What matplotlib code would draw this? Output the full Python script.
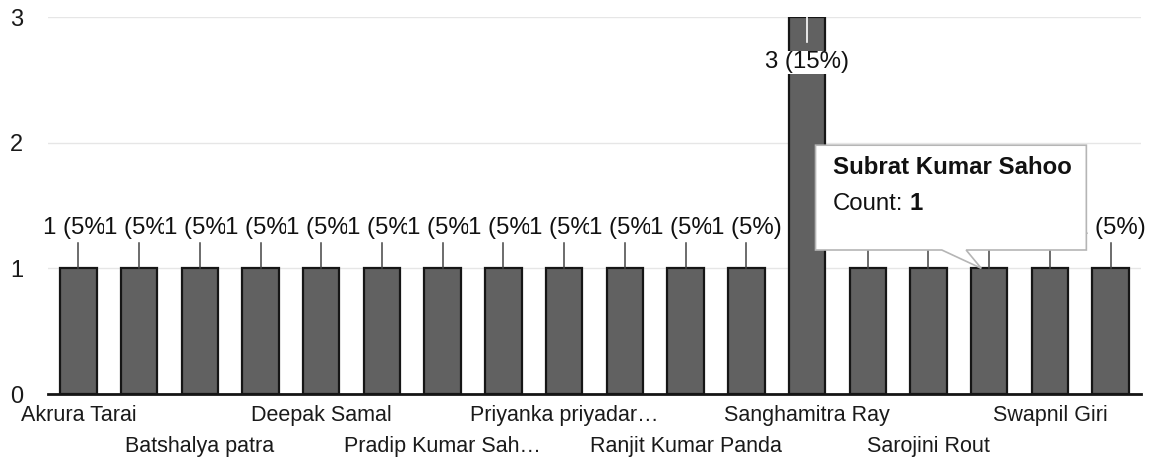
import matplotlib
matplotlib.use("Agg")
import matplotlib.pyplot as plt
from matplotlib.patches import Polygon

plt.rcParams['font.family'] = ['Liberation Sans', 'DejaVu Sans']

# Respondents (alphabetical); only every other name is printed on the axis
names = [
    "Akrura Tarai", "", "Batshalya patra", "", "Deepak Samal", "",
    "Pradip Kumar Sah\u2026", "", "Priyanka priyadar\u2026", "", "Ranjit Kumar Panda", "",
    "Sanghamitra Ray", "", "Sarojini Rout", "Subrat Kumar Sahoo", "Swapnil Giri", "",
]
counts = [1, 1, 1, 1, 1, 1, 1, 1, 1, 1, 1, 1, 3, 1, 1, 1, 1, 1]
y_ticks = [0, 1, 2, 3]
hover_index = 15  # point whose tooltip is open

total = sum(counts)
x = list(range(len(counts)))

fig = plt.figure(figsize=(11.6, 4.73), dpi=100)
ax = fig.add_axes([48 / 1160, 0.167, 1093 / 1160, 0.797])
ax.set_xlim(-0.5, len(counts) - 0.5)
ax.set_ylim(0, 3)

# grid and axes
ax.set_yticks(y_ticks)
ax.yaxis.grid(True, color="#e6e6e6", linewidth=1.0, zorder=0)
ax.set_axisbelow(True)
for side in ("top", "right", "left", "bottom"):
    ax.spines[side].set_visible(False)
ax.axhline(0, color="#151515", linewidth=2.0, zorder=3, clip_on=False)
ax.tick_params(axis="y", length=0, pad=18, labelsize=17, labelcolor="#1a1a1a")

# columns
ax.bar(x, counts, width=0.6, color="#616161", edgecolor="#161616",
       linewidth=1.6, zorder=2)

# staggered category labels: two rows via major / minor ticks
row0 = [i for i in range(0, len(names), 4)]
row1 = [i for i in range(2, len(names), 4)]
ax.set_xticks(row0)
ax.set_xticklabels([names[i] for i in row0])
ax.set_xticks(row1, minor=True)
ax.set_xticklabels([names[i] for i in row1], minor=True)
ax.tick_params(axis="x", which="major", length=0, pad=8, labelsize=15.5,
               labelcolor="#1a1a1a")
ax.tick_params(axis="x", which="minor", length=0, pad=30, labelsize=15.5,
               labelcolor="#1a1a1a")

# data labels with connectors
for i, c in enumerate(counts):
    label = f"{c} ({c / total * 100:.0f}%)"
    if c == max(counts):
        # label does not fit above the column: placed inside its top
        ax.plot([i, i], [c, c - 0.2], color="white", linewidth=1.2, zorder=4)
        ax.text(i, c - 0.36, label, ha="center", va="center", fontsize=17.3,
                color="#111111", zorder=10 + i,
                bbox=dict(facecolor="white", edgecolor="none", pad=0.5))
    else:
        ax.plot([i, i], [c, c + 0.2], color="#444444", linewidth=1.1, zorder=4)
        ax.text(i, c + 0.32, label, ha="center", va="center", fontsize=17.3,
                color="#111111", zorder=10 + i,
                bbox=dict(facecolor="white", edgecolor="none", pad=0.0))

# tooltip for the hovered point
L, R, T, B = 12.14, 16.6, 1.98, 1.146
tip_x = hover_index - 0.13
verts = [(L, T), (R, T), (R, B), (14.62, B), (tip_x, counts[hover_index]),
         (14.22, B), (L, B)]
ax.add_patch(Polygon(verts, closed=True, facecolor="white", edgecolor="#b5b5b5",
                     linewidth=1.2, zorder=50, clip_on=False))
ax.text(L + 0.28, 1.80, names[hover_index], ha="left", va="center",
        fontsize=17.3, fontweight="bold", color="#111111", zorder=51)
count_txt = ax.text(L + 0.28, 1.51, "Count:", ha="left", va="center",
                    fontsize=17.3, color="#111111", zorder=51)
ax.annotate(f"{counts[hover_index]}", xy=(1, 0), xycoords=count_txt,
            xytext=(5, 0), textcoords="offset points", ha="left", va="bottom",
            fontsize=17.3, fontweight="bold", color="#111111", zorder=51)

fig.savefig("out.png", dpi=100, facecolor="white")
